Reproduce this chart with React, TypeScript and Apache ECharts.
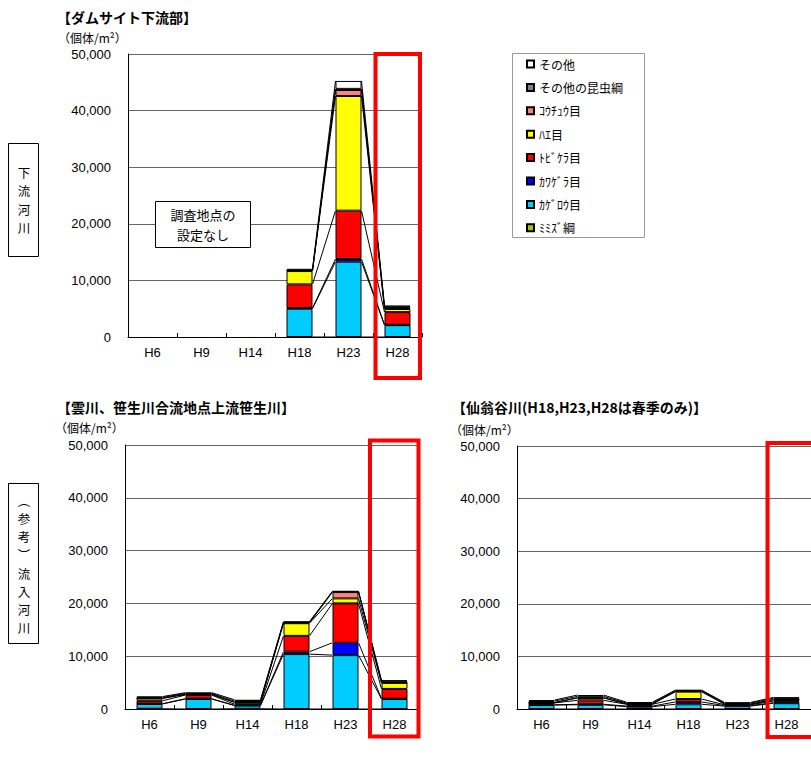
import React, { useEffect, useRef } from 'react';
import * as echarts from 'echarts';

// Survey years on the x axis
const categories = ['H6', 'H9', 'H14', 'H18', 'H23', 'H28'];

// Taxa, in stacking order (bottom to top)
const groupNames = ['ﾐﾐｽﾞ綱', 'ｶｹﾞﾛｳ目', 'ｶﾜｹﾞﾗ目', 'ﾄﾋﾞｹﾗ目', 'ﾊｴ目', 'ｺｳﾁｭｳ目', 'その他の昆虫綱', 'その他'];
const groupColors = ['#99CC00', '#00CCFF', '#0000FF', '#FF0000', '#FFFF00', '#FF8080', '#808080', '#FFFFFF'];

// Individuals per m², downstream of the dam site (no survey point before H18)
const downMimizu = [null, null, null, 0, 0, 0];
const downKagerou = [null, null, null, 5000, 13300, 2100];
const downKawagera = [null, null, null, 100, 480, 50];
const downTobikera = [null, null, null, 4200, 8540, 2250];
const downHae = [null, null, null, 2350, 20260, 550];
const downKouchuu = [null, null, null, 50, 1060, 150];
const downOtherInsects = [null, null, null, 100, 200, 250];
const downOther = [null, null, null, 250, 1400, 200];

// Sasou River above the Kumo River confluence
const sasouMimizu = [50, 0, 50, 0, 0, 0];
const sasouKagerou = [900, 1900, 600, 10400, 10200, 1900];
const sasouKawagera = [50, 50, 50, 450, 2350, 50];
const sasouTobikera = [550, 700, 200, 3000, 7450, 1850];
const sasouHae = [450, 100, 350, 2400, 950, 1150];
const sasouKouchuu = [50, 50, 50, 50, 1200, 50];
const sasouOtherInsects = [150, 150, 200, 150, 100, 250];
const sasouOther = [150, 150, 250, 100, 50, 200];

// Sennoudani River
const sennMimizu = [0, 0, 0, 0, 0, 0];
const sennKagerou = [750, 800, 450, 900, 550, 1100];
const sennKawagera = [50, 100, 100, 450, 100, 100];
const sennTobikera = [350, 750, 350, 550, 150, 300];
const sennHae = [50, 450, 50, 1400, 100, 250];
const sennKouchuu = [50, 50, 50, 50, 50, 50];
const sennOtherInsects = [250, 250, 150, 150, 150, 250];
const sennOther = [200, 250, 150, 100, 150, 150];

const yMax = 50000;
const yInterval = 10000;

const JP = '"Noto Sans CJK JP", sans-serif';
const NUM = 'Arial, "Liberation Sans", sans-serif';
const BAR_RATIO = 0.53;

type Panel = {
  values: (number | null)[][];
  grid: { left: number; top: number; width: number; height: number };
};

const panels: Panel[] = [
  {
    values: [downMimizu, downKagerou, downKawagera, downTobikera, downHae, downKouchuu, downOtherInsects, downOther],
    grid: { left: 128, top: 54, width: 294, height: 283 },
  },
  {
    values: [sasouMimizu, sasouKagerou, sasouKawagera, sasouTobikera, sasouHae, sasouKouchuu, sasouOtherInsects, sasouOther],
    grid: { left: 125, top: 445, width: 294, height: 264 },
  },
  {
    values: [sennMimizu, sennKagerou, sennKawagera, sennTobikera, sennHae, sennKouchuu, sennOtherInsects, sennOther],
    grid: { left: 517, top: 446, width: 297, height: 263 },
  },
];

// Connector lines between the segment tops of neighbouring stacked bars
function seriesLines(values: (number | null)[][], g: number) {
  const cum = categories.map((_, c) => {
    if (values.every((v) => v[c] == null)) return null;
    let s = 0;
    return values.map((v) => (s += v[c] ?? 0));
  });
  const pairs: number[][] = [];
  for (let c = 0; c < categories.length - 1; c++) {
    if (cum[c] && cum[c + 1]) pairs.push([c, 0]);
  }
  return {
    type: 'custom',
    xAxisIndex: g,
    yAxisIndex: g,
    silent: true,
    z: 3,
    data: pairs,
    encode: { x: 0, y: 1 },
    renderItem: (params: any, api: any) => {
      const c = pairs[params.dataIndex][0];
      const half = (api.size([1, 0])[0] * BAR_RATIO) / 2;
      const a = cum[c] as number[];
      const b = cum[c + 1] as number[];
      const children = a.map((_, k) => {
        const p1 = api.coord([c, a[k]]);
        const p2 = api.coord([c + 1, b[k]]);
        return {
          type: 'line',
          shape: { x1: p1[0] + half, y1: p1[1], x2: p2[0] - half, y2: p2[1] },
          style: { stroke: '#000', lineWidth: 1 },
        };
      });
      return { type: 'group', children };
    },
  };
}

function text(x: number, y: number, str: string, font: string, align = 'left', extra: any = {}) {
  return {
    type: 'text',
    x,
    y,
    silent: true,
    style: { text: str, font, fill: '#000', textAlign: align, textVerticalAlign: 'middle', ...extra },
  };
}

function redBox(x: number, y: number, w: number, h: number) {
  return {
    type: 'rect',
    silent: true,
    z: 100,
    shape: { x, y, width: w, height: h },
    style: { fill: 'none', stroke: '#FF0000', lineWidth: 4 },
  };
}

export default function App() {
  const ref = useRef<HTMLDivElement>(null);

  useEffect(() => {
    document.body.style.margin = '0';
    const chart = echarts.init(ref.current!, null, { renderer: 'svg' });

    const grid = panels.map((p) => ({ ...p.grid, containLabel: false }));
    const xAxis = panels.map((_, g) => ({
      type: 'category',
      gridIndex: g,
      data: categories,
      axisLine: { lineStyle: { color: '#000', width: 1 } },
      axisTick: { show: true, inside: true, length: 4, lineStyle: { color: '#000' } },
      axisLabel: { color: '#000', fontSize: 13, fontFamily: NUM, margin: 9 },
    }));
    const yAxis = panels.map((_, g) => ({
      type: 'value',
      gridIndex: g,
      min: 0,
      max: yMax,
      interval: yInterval,
      axisLine: { show: true, lineStyle: { color: '#000', width: 1 } },
      axisTick: { show: false },
      splitLine: { lineStyle: { color: '#666', width: 1 } },
      axisLabel: {
        color: '#000',
        fontSize: 13,
        fontFamily: NUM,
        margin: 17,
        formatter: (v: number) => v.toLocaleString('en-US'),
      },
    }));

    const series: any[] = [];
    panels.forEach((p, g) => {
      p.values.forEach((vals, k) => {
        series.push({
          type: 'bar',
          name: groupNames[k],
          stack: 'total' + g,
          xAxisIndex: g,
          yAxisIndex: g,
          barWidth: BAR_RATIO * 100 + '%',
          data: vals.map((v) => (v == null ? '-' : v)),
          itemStyle: { color: groupColors[k], borderColor: '#000', borderWidth: 1 },
          z: 2,
        });
      });
      series.push(seriesLines(p.values, g));
    });

    const vFont = `12.5px ${JP}`;
    const vStep = 18.2;

    const graphic: any[] = [
      // Panel titles
      text(57, 17, '【ダムサイト下流部】', `bold 14px ${JP}`),
      text(57, 407, '【雲川、笹生川合流地点上流笹生川】', `bold 14px ${JP}`),
      text(452, 407, '【仙翁谷川(H18,H23,H28は春季のみ)】', `bold 14px ${JP}`),
      // Units
      text(58, 37.5, '（個体/m²）', `12px ${JP}`),
      text(55, 427.5, '（個体/m²）', `12px ${JP}`),
      text(450, 429.5, '（個体/m²）', `12px ${JP}`),
      // Row labels (vertical writing, one character per line)
      {
        type: 'rect',
        silent: true,
        shape: { x: 8.5, y: 143.5, width: 30, height: 113 },
        style: { fill: '#fff', stroke: '#000', lineWidth: 1 },
      },
      { ...text(24, 200, '下\n流\n河\n川', vFont, 'center', { lineHeight: vStep }), z: 60 },
      {
        type: 'rect',
        silent: true,
        shape: { x: 8.5, y: 483.5, width: 30, height: 160 },
        style: { fill: '#fff', stroke: '#000', lineWidth: 1 },
      },
      {
        ...text(24, 564, '︵\n参\n考\n︶\n流\n入\n河\n川', vFont, 'center', { lineHeight: vStep }),
        z: 60,
      },
      // Note inside the downstream panel
      {
        type: 'rect',
        silent: true,
        z: 50,
        shape: { x: 155.5, y: 201.5, width: 95, height: 46 },
        style: { fill: '#fff', stroke: '#000', lineWidth: 1 },
      },
      { ...text(203, 224.5, '調査地点の\n設定なし', `13px ${JP}`, 'center', { lineHeight: 20 }), z: 51 },
      // Legend frame
      {
        type: 'rect',
        silent: true,
        shape: { x: 512.5, y: 53.5, width: 132, height: 184 },
        style: { fill: '#fff', stroke: '#999', lineWidth: 1 },
      },
      // H28 highlight frames
      redBox(375.5, 54, 44.5, 324),
      redBox(370, 440.5, 48.5, 296),
      redBox(767.5, 443, 60, 294),
    ];

    chart.setOption({
      animation: false,
      backgroundColor: '#fff',
      textStyle: { fontFamily: JP },
      grid,
      xAxis,
      yAxis,
      legend: {
        data: groupNames.slice().reverse(),
        orient: 'vertical',
        left: 526,
        top: 57,
        padding: 0,
        itemWidth: 7,
        itemHeight: 7,
        itemGap: 9.4,
        icon: 'rect',
        selectedMode: false,
        z: 10,
        textStyle: { fontSize: 12, fontFamily: JP, color: '#000', lineHeight: 14 },
      },
      graphic,
      series,
    });

    return () => chart.dispose();
  }, []);

  return <div ref={ref} style={{ width: 811, height: 767 }} />;
}
